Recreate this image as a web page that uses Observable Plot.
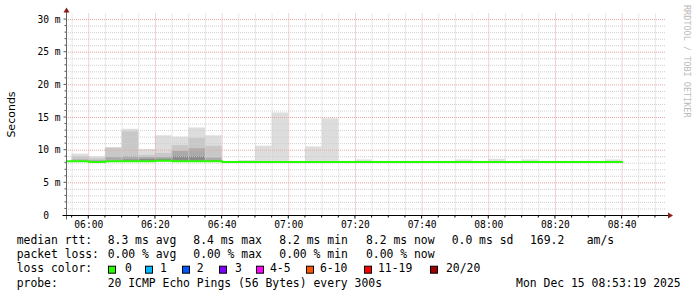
<!DOCTYPE html>
<html><head><meta charset="utf-8">
<script src="https://cdn.jsdelivr.net/npm/d3@7"></script>
<script src="https://cdn.jsdelivr.net/npm/@observablehq/plot@0.6"></script>
<style>
body{margin:0;background:#fff;}
#wrap{position:relative;width:697px;height:297px;overflow:hidden;background:#fff;}
#wrap svg{display:block;}
</style></head><body><div id="wrap"></div>
<script>
// ---- data (5-minute intervals, labelled by interval end time) ----
const viewStart = "05:53:19";
const viewEnd = "08:53:19";
const endTimes = ["05:55","06:00","06:05","06:10","06:15","06:20","06:25","06:30","06:35","06:40",
  "06:45","06:50","06:55","07:00","07:05","07:10","07:15","07:20","07:25","07:30",
  "07:35","07:40","07:45","07:50","07:55","08:00","08:05","08:10","08:15","08:20",
  "08:25","08:30","08:35","08:40"];
const median = [8.3,8.3,8.2,8.3,8.3,8.3,8.4,8.3,8.3,8.3,
  8.2,8.2,8.2,8.2,8.2,8.2,8.2,8.2,8.2,8.2,
  8.2,8.2,8.2,8.2,8.2,8.2,8.2,8.2,8.2,8.2,
  8.2,8.2,8.2,8.2];
const pingMax = [8.3,9.4,9.0,10.4,13.2,10.1,12.2,12.0,13.4,12.2,
  8.3,8.4,10.6,15.7,8.3,10.5,14.8,8.3,8.5,8.3,
  8.3,8.3,8.3,8.3,8.5,8.3,8.6,8.3,8.5,8.3,
  8.3,8.3,8.3,8.5];
const ping90 = [8.3,9.0,8.7,10.3,12.8,9.2,9.5,10.7,11.8,10.6,
  8.2,8.2,8.2,8.2,8.2,8.2,8.2,8.2,8.2,8.2,
  8.2,8.2,8.2,8.2,8.2,8.2,8.2,8.2,8.2,8.2,
  8.2,8.2,8.2,8.2];
const ping75 = [8.3,8.5,8.4,8.9,9.0,8.9,8.9,9.8,10.2,8.8,
  8.2,8.2,8.2,8.2,8.2,8.2,8.2,8.2,8.2,8.2,
  8.2,8.2,8.2,8.2,8.2,8.2,8.2,8.2,8.2,8.2,
  8.2,8.2,8.2,8.2];
const ping60 = [8.3,8.3,8.2,8.3,8.5,8.6,8.6,9.0,9.0,8.4,
  8.2,8.2,8.2,8.2,8.2,8.2,8.2,8.2,8.2,8.2,
  8.2,8.2,8.2,8.2,8.2,8.2,8.2,8.2,8.2,8.2,
  8.2,8.2,8.2,8.2];
const xTickLabels = ["06:00","06:20","06:40","07:00","07:20","07:40","08:00","08:20","08:40"];
const yTickValues = [0,5,10,15,20,25,30];
const yTickLabels = ["0  ","5 m","10 m","15 m","20 m","25 m","30 m"];
const yMax = 30.85;
const rttStats = ["8.3 ms avg","8.4 ms max","8.2 ms min","8.2 ms now","0.0 ms sd","169.2","am/s"];
const lossStats = ["0.00 % avg","0.00 % max","0.00 % min","0.00 % now"];
const lossLabels = ["0","1","2","3","4-5","6-10","11-19","20/20"];
const lossColors = ["#26ff00","#00b8ff","#0059ff","#7e00ff","#ff00ff","#ff5500","#ff0000","#a10000"];
const probeText = "20 ICMP Echo Pings (56 Bytes) every 300s";
const stampText = "Mon Dec 15 08:53:19 2025";

// ---- build ----
const parseT = s => new Date(`2025-12-15T${s.length === 5 ? s + ":00" : s}Z`);
const rows = endTimes.map((t, i) => ({
  end: parseT(t), start: new Date(parseT(t).getTime() - 300000),
  median: median[i], hi: pingMax[i], p90: ping90[i], p75: ping75[i], p60: ping60[i]
}));
const linePts = [{t: rows[0].start, v: rows[0].median}, ...rows.map(r => ({t: r.end, v: r.median}))];
const x0 = parseT(viewStart), x1 = parseT(viewEnd);
const majorX = xTickLabels.map(parseT);
const allMinorX = d3.utcMinute.every(5).range(x0, x1);
const minorX = allMinorX.filter(d => d.getUTCMinutes() % 20 !== 0);
const minorY = d3.range(1, 31).filter(v => v % 5 !== 0);
const majorY = yTickValues.filter(v => v > 0);

const band = (key, fill) => Plot.rect(rows, {x1: "start", x2: "end", y1: "median", y2: key, fill, clip: true});
const minorC = "#d0d0d0", majorC = "#e8a6a6";

const plot = Plot.plot({
  width: 697, height: 232,
  marginLeft: 66, marginRight: 31, marginTop: 13.5, marginBottom: 17,
  x: {type: "utc", domain: [x0, x1], axis: null},
  y: {domain: [0, yMax], axis: null},
  style: {fontFamily: "DejaVu Sans Mono", fontSize: "9.6px", background: "white", overflow: "visible"},
  marks: [
    band("hi", "#dddddd"),
    band("p90", "#c8c8c8"),
    band("p75", "#aaaaaa"),
    band("p60", "#8a8a8a"),
    Plot.ruleY(minorY, {stroke: minorC, strokeDasharray: "1,1"}),
    Plot.ruleX(minorX, {stroke: minorC, strokeDasharray: "1,1"}),
    Plot.ruleY(majorY, {stroke: majorC, strokeDasharray: "1,1"}),
    Plot.ruleX(majorX, {stroke: majorC, strokeDasharray: "1,1"}),
    Plot.line(linePts, {x: "t", y: "v", curve: "step-before", stroke: "#26ff00", strokeWidth: 2, clip: true}),
    Plot.text(yTickValues, {frameAnchor: "left", y: d => d, text: (d, i) => yTickLabels[i], textAnchor: "end", dx: -6}),
    Plot.text(majorX, {x: d => d, y: 0, text: (d, i) => xTickLabels[i], dy: 9})
  ]
});

const svg = d3.select(plot);
svg.selectAll("text").attr("xml:space", "preserve").style("white-space", "pre");
const X = d => plot.scale("x").apply(d), Y = v => plot.scale("y").apply(v);
const gx = Math.round(X(x0)) + 0.5, gy = Math.round(Y(0)) + 0.5, gR = X(x1), gT = Y(yMax);
const g = svg.append("g");
allMinorX.forEach(d => g.append("line").attr("x1", X(d)).attr("x2", X(d)).attr("y1", gy).attr("y2", gy + (d.getUTCMinutes() % 20 ? 2 : 3)).attr("stroke", "#000"));
d3.range(1, 31).forEach(v => g.append("line").attr("x1", gx - (v % 5 ? 2 : 3)).attr("x2", gx).attr("y1", Y(v)).attr("y2", Y(v)).attr("stroke", "#555"));
g.append("line").attr("x1", gx).attr("x2", gx).attr("y1", gy + 4).attr("y2", gT - 2).attr("stroke", "#666");
g.append("line").attr("x1", gx - 4).attr("x2", gR + 3).attr("y1", gy).attr("y2", gy).attr("stroke", "#000");
g.append("path").attr("d", `M${gx - 3},${gT - 1}L${gx + 3},${gT - 1}L${gx},${gT - 6}Z`).attr("fill", "#8b1c1c");
g.append("path").attr("d", `M${gR + 2},${gy - 3}L${gR + 2},${gy + 3}L${gR + 7},${gy}Z`).attr("fill", "#8b1c1c");
g.append("text").attr("transform", `translate(14.5,${(gy + gT) / 2}) rotate(-90)`).attr("text-anchor", "middle")
  .style("font-family", "DejaVu Sans").style("font-size", "11px").attr("fill", "#000").text("Seconds");
g.append("text").attr("transform", "translate(684,5) rotate(90)").attr("text-anchor", "start")
  .style("font-family", "DejaVu Sans Mono").style("font-size", "8.5px").attr("fill", "#bbbbbb").text("RRDTOOL / TOBI OETIKER");

document.getElementById("wrap").appendChild(plot);

// ---- legend below ----
const leg = d3.select("#wrap").append("svg").attr("width", 697).attr("height", 65)
  .style("font-family", "DejaVu Sans Mono").style("font-size", "11.4px");
const cols = [107.7, 193.3, 279.3, 366, 451.7, 530, 586.7];
const b1 = 12.3, b2 = 26.3, b3 = 40.3, b4 = 54.7;
leg.append("text").attr("x", 16.7).attr("y", b1).text("median rtt:");
rttStats.forEach((s, i) => leg.append("text").attr("x", cols[i]).attr("y", b1).text(s));
leg.append("text").attr("x", 16.7).attr("y", b2).text("packet loss:");
lossStats.forEach((s, i) => leg.append("text").attr("x", cols[i]).attr("y", b2).text(s));
leg.append("text").attr("x", 16.7).attr("y", b3).text("loss color:");
const boxX = [108.5, 145.5, 182.5, 219.5, 256.5, 306.5, 364.5, 430.5];
const labX = [125, 160, 196.7, 235, 270, 320, 378, 446];
lossLabels.forEach((s, i) => {
  leg.append("rect").attr("x", boxX[i]).attr("y", 34.2).attr("width", 7).attr("height", 7)
    .attr("fill", lossColors[i]).attr("stroke", "#000");
  leg.append("text").attr("x", labX[i]).attr("y", b3).text(s);
});
leg.append("text").attr("x", 16.7).attr("y", b4).text("probe:");
leg.append("text").attr("x", 107.7).attr("y", b4).text(probeText);
leg.append("text").attr("x", 680.7).attr("y", b4).attr("text-anchor", "end").text(stampText);
</script></body></html>
